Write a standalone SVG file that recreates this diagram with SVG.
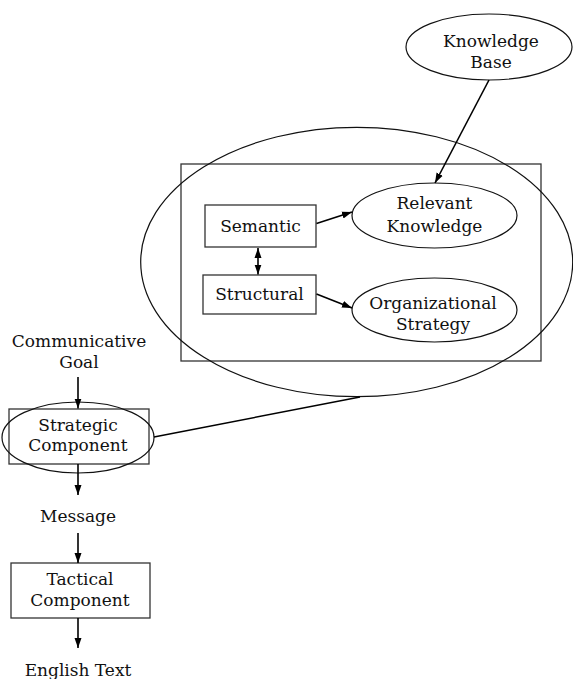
<svg xmlns="http://www.w3.org/2000/svg" width="573" height="679" viewBox="0 0 573 679">
  <style>
    text { font-family: "DejaVu Serif", "Liberation Serif", serif; font-size: 17px; fill: #111; text-anchor: middle; }
    .box { fill: none; stroke: #333; stroke-width: 1.3; }
    .oval { fill: none; stroke: #111; stroke-width: 1.2; }
    .edge { fill: none; stroke: #000; stroke-width: 1.6; }
  </style>
  <defs>
    <marker id="arrow" viewBox="0 0 10 10" refX="10" refY="5" markerWidth="10" markerHeight="10" markerUnits="userSpaceOnUse" orient="auto">
      <path d="M0,1.5 L10,5 L0,8.5 Z" fill="#000"/>
    </marker>
    <marker id="arrowStart" viewBox="0 0 10 10" refX="0" refY="5" markerWidth="10" markerHeight="10" markerUnits="userSpaceOnUse" orient="auto">
      <path d="M10,1.5 L0,5 L10,8.5 Z" fill="#000"/>
    </marker>
  </defs>

  <!-- strategic component internals: frame and enclosing oval -->
  <g id="strategic-detail">
    <rect class="box" x="181" y="164" width="360" height="197"/>
    <ellipse class="oval" cx="356.7" cy="262" rx="216" ry="134.7"/>
  </g>

  <g id="knowledge-base">
    <ellipse class="oval" cx="489" cy="47" rx="83" ry="33"/>
    <text x="491" y="47">Knowledge</text>
    <text x="491" y="68">Base</text>
  </g>

  <g id="semantic">
    <rect class="box" x="205" y="205" width="111" height="42"/>
    <text x="260.5" y="232">Semantic</text>
  </g>

  <g id="structural">
    <rect class="box" x="203" y="275" width="113" height="39"/>
    <text x="259.5" y="300">Structural</text>
  </g>

  <g id="relevant-knowledge">
    <ellipse class="oval" cx="434.5" cy="215.5" rx="82.5" ry="32.5"/>
    <text x="434.5" y="209">Relevant</text>
    <text x="434.5" y="232">Knowledge</text>
  </g>

  <g id="organizational-strategy">
    <ellipse class="oval" cx="434.5" cy="310" rx="82.5" ry="32"/>
    <text x="433" y="309">Organizational</text>
    <text x="433" y="330">Strategy</text>
  </g>

  <g id="communicative-goal">
    <text x="79" y="347">Communicative</text>
    <text x="79" y="368">Goal</text>
  </g>

  <g id="strategic-component">
    <rect class="box" x="9" y="409" width="140" height="55"/>
    <ellipse class="oval" cx="78" cy="437.5" rx="76" ry="35.5"/>
    <text x="78" y="431">Strategic</text>
    <text x="78" y="451">Component</text>
  </g>

  <g id="message">
    <text x="78" y="522">Message</text>
  </g>

  <g id="tactical-component">
    <rect class="box" x="11" y="563" width="139" height="55"/>
    <text x="80" y="585">Tactical</text>
    <text x="80" y="606">Component</text>
  </g>

  <g id="english-text">
    <text x="78" y="676">English Text</text>
  </g>

  <g id="connectors">
    <line class="edge" x1="489" y1="80" x2="435" y2="183" marker-end="url(#arrow)"/>
    <line class="edge" x1="316.5" y1="223.5" x2="352" y2="212" marker-end="url(#arrow)"/>
    <line class="edge" x1="316.5" y1="294" x2="352" y2="308" marker-end="url(#arrow)"/>
    <line class="edge" x1="258" y1="248" x2="258" y2="274.5" marker-start="url(#arrowStart)" marker-end="url(#arrow)"/>
    <line class="edge" x1="78" y1="377" x2="78" y2="408.5" marker-end="url(#arrow)"/>
    <line class="edge" x1="154" y1="437" x2="360" y2="397" style="stroke-width:1.4"/>
    <line class="edge" x1="78" y1="464" x2="78" y2="495" marker-end="url(#arrow)"/>
    <line class="edge" x1="78" y1="533" x2="78" y2="563" marker-end="url(#arrow)"/>
    <line class="edge" x1="78" y1="618" x2="78" y2="648" marker-end="url(#arrow)"/>
  </g>
</svg>
